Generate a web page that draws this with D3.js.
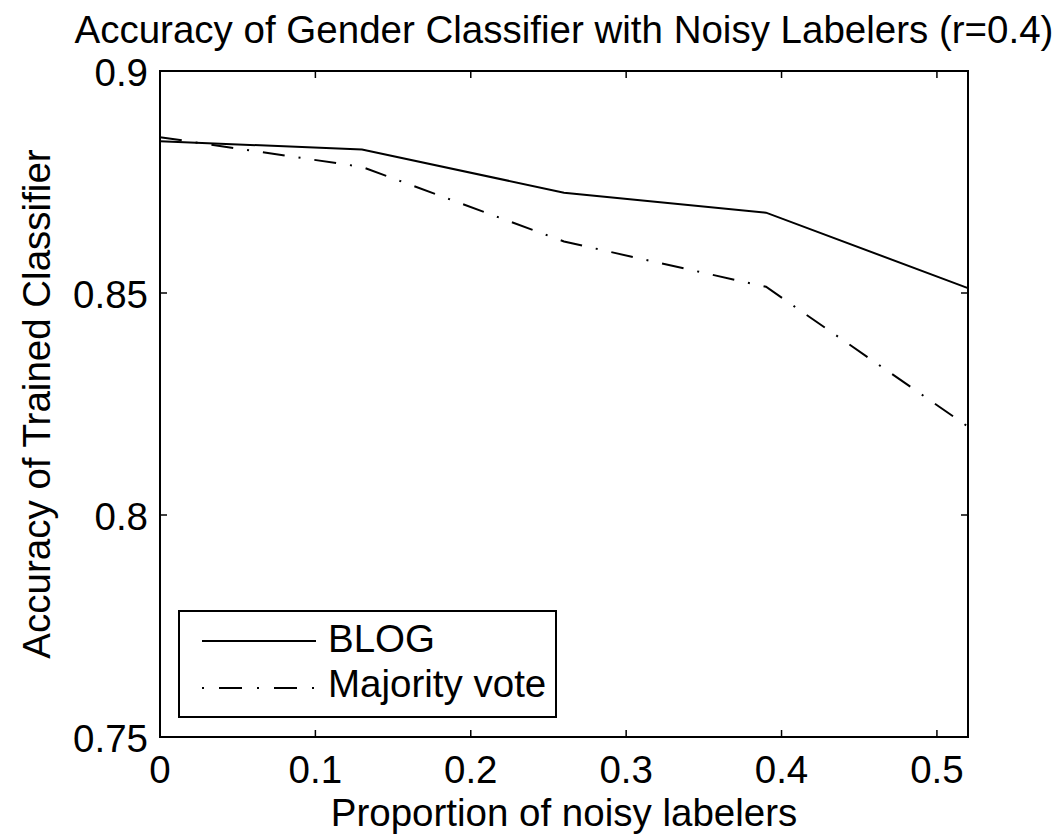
<!DOCTYPE html>
<html><head><meta charset="utf-8">
<script src="https://cdn.jsdelivr.net/npm/d3@7"></script>
<style>body{margin:0;background:#fff}svg{display:block}text{font-family:"Liberation Sans",Arial,Helvetica,sans-serif;fill:#000}</style>
</head><body>
<svg id="c" width="1062" height="838"></svg>
<script>
const xValues = [0, 0.13, 0.26, 0.39, 0.52];
const blog = [0.8842, 0.8823, 0.8726, 0.8681, 0.8511];
const majority = [0.8851, 0.8784, 0.8616, 0.8514, 0.8199];
const xTicks = [0, 0.1, 0.2, 0.3, 0.4, 0.5];
const yTicks = [0.75, 0.8, 0.85, 0.9];
const seriesNames = ["BLOG", "Majority vote"];

const svg = d3.select("#c");
const L = 160, R = 968, T = 71, B = 737;
const FS = 38.5;
const x = d3.scaleLinear().domain([0, 0.52]).range([L, R]);
const y = d3.scaleLinear().domain([0.75, 0.9]).range([B, T]);
const tl = 7;

const g = svg.append("g");
xTicks.forEach(t => {
  g.append("line").attr("x1", x(t)).attr("x2", x(t)).attr("y1", B).attr("y2", B - tl).attr("stroke", "#000").attr("stroke-width", 1.5);
  g.append("line").attr("x1", x(t)).attr("x2", x(t)).attr("y1", T).attr("y2", T + tl).attr("stroke", "#000").attr("stroke-width", 1.5);
  g.append("text").attr("x", x(t)).attr("y", 783).attr("text-anchor", "middle").attr("font-size", FS).text(String(t));
});
yTicks.forEach(t => {
  g.append("line").attr("x1", L).attr("x2", L + tl).attr("y1", y(t)).attr("y2", y(t)).attr("stroke", "#000").attr("stroke-width", 1.5);
  g.append("line").attr("x1", R).attr("x2", R - tl).attr("y1", y(t)).attr("y2", y(t)).attr("stroke", "#000").attr("stroke-width", 1.5);
  g.append("text").attr("x", 148).attr("y", y(t) + 15).attr("text-anchor", "end").attr("font-size", FS).text(String(t));
});

const line = d3.line().x((d, i) => x(xValues[i])).y(d => y(d));
svg.append("path").datum(blog).attr("d", line).attr("fill", "none").attr("stroke", "#000").attr("stroke-width", 2);
svg.append("path").datum(majority).attr("d", line).attr("fill", "none").attr("stroke", "#000").attr("stroke-width", 2).attr("stroke-dasharray", "22,14,2,14");

svg.append("rect").attr("x", L).attr("y", T).attr("width", R - L).attr("height", B - T).attr("fill", "none").attr("stroke", "#000").attr("stroke-width", 2);

const lg = svg.append("g");
lg.append("rect").attr("x", 179).attr("y", 611).attr("width", 377).attr("height", 106).attr("fill", "#fff").attr("stroke", "#000").attr("stroke-width", 2);
lg.append("line").attr("x1", 202).attr("x2", 316).attr("y1", 641).attr("y2", 641).attr("stroke", "#000").attr("stroke-width", 2);
lg.append("line").attr("x1", 202).attr("x2", 316).attr("y1", 688).attr("y2", 688).attr("stroke", "#000").attr("stroke-width", 2).attr("stroke-dasharray", "2,15,23,15");
lg.append("text").attr("x", 328).attr("y", 652).attr("font-size", FS).text(seriesNames[0]);
lg.append("text").attr("x", 328).attr("y", 697).attr("font-size", FS).text(seriesNames[1]);

svg.append("text").attr("x", 564).attr("y", 43).attr("text-anchor", "middle").attr("font-size", FS).text("Accuracy of Gender Classifier with Noisy Labelers (r=0.4)");
svg.append("text").attr("x", 564).attr("y", 826).attr("text-anchor", "middle").attr("font-size", FS).text("Proportion of noisy labelers");
svg.append("text").attr("transform", "translate(50,404) rotate(-90)").attr("text-anchor", "middle").attr("font-size", FS).text("Accuracy of Trained Classifier");
</script>
</body></html>
